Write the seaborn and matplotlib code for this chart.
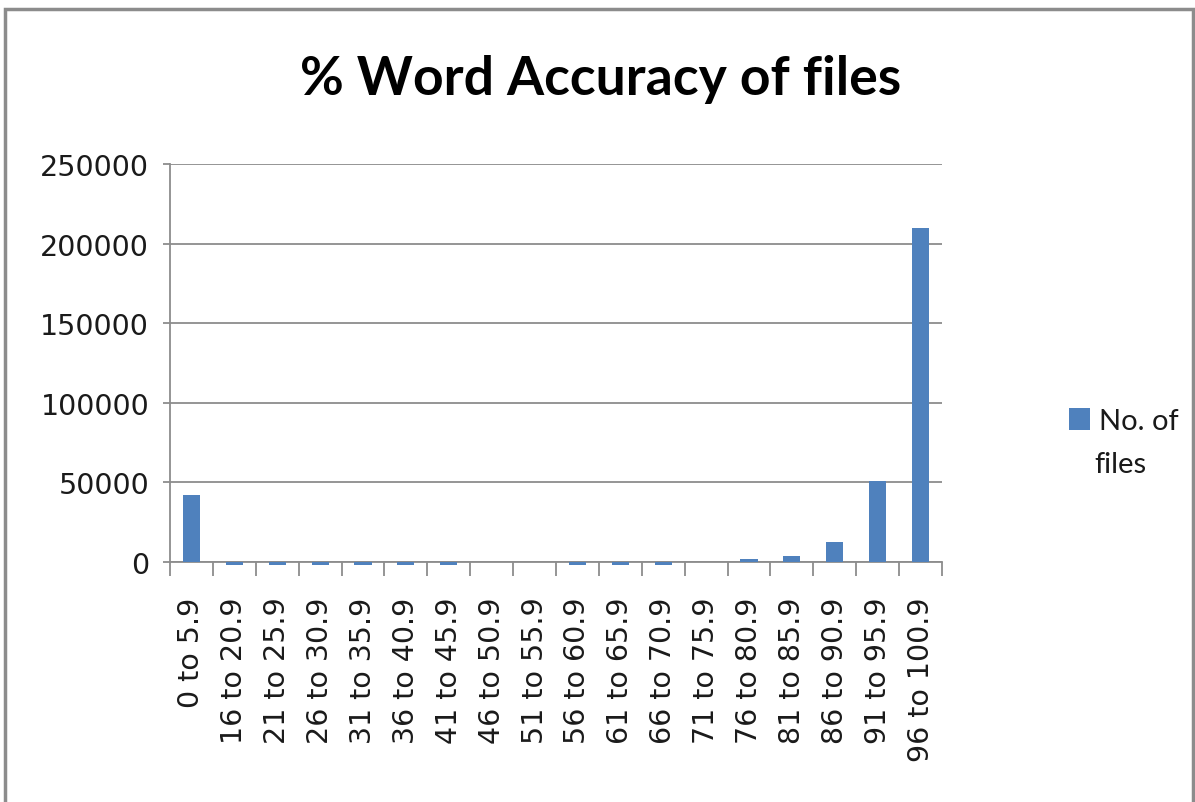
import numpy as np
import pandas as pd
import matplotlib
matplotlib.use("Agg")
import matplotlib.pyplot as plt
import seaborn as sns
from matplotlib.patches import Rectangle
from matplotlib.ticker import FixedLocator

# =============================
# DATA
# =============================
ranges = ["0 to 5.9", "16 to 20.9", "21 to 25.9", "26 to 30.9", "31 to 35.9",
          "36 to 40.9", "41 to 45.9", "46 to 50.9", "51 to 55.9", "56 to 60.9",
          "61 to 65.9", "66 to 70.9", "71 to 75.9", "76 to 80.9", "81 to 85.9",
          "86 to 90.9", "91 to 95.9", "96 to 100.9"]
no_of_files = [42300, -2000, -2000, -2000, -2000, -2000, -2000, 0, 0, -2000,
               -2000, -2000, 0, 2000, 3800, 12600, 51100, 210000]
y_ticks = [0, 50000, 100000, 150000, 200000, 250000]

df = pd.DataFrame({"range": ranges, "files": no_of_files})

BAR_COLOR = "#4F81BD"
GRID_COLOR = "#8C8C8C"
TEXT_COLOR = "#1a1a1a"

# =============================
# PLOT
# =============================
sns.set_theme(style="white")
plt.rcParams["font.family"] = ["DejaVu Sans"]

fig = plt.figure(figsize=(11.95, 8.03), dpi=100)
ax = fig.add_axes([170 / 1195, 1 - 563 / 803, (942 - 170) / 1195, (563 - 165) / 803])

sns.barplot(data=df, x="range", y="files", color=BAR_COLOR, width=0.4,
            saturation=1, ax=ax, label="No. of", linewidth=0)
# the small negative bars hang just below the axis
for bar in ax.patches:
    bar.set_clip_on(False)
    bar.set_zorder(3)
    bar.set_linewidth(0)

ax.set_ylim(0, 250000)
ax.set_xlim(-0.5, len(ranges) - 0.5)
ax.set_yticks(y_ticks)
ax.set_yticklabels([str(v) for v in y_ticks], fontsize=20.5, color=TEXT_COLOR)
ax.yaxis.grid(True, color=GRID_COLOR, linewidth=1.3)
ax.set_axisbelow(True)

ax.set_xticks(range(len(ranges)))
ax.set_xticklabels(ranges, rotation=90, fontsize=20.5, color=TEXT_COLOR)
ax.xaxis.set_minor_locator(FixedLocator(np.arange(-0.5, len(ranges), 1.0)))
ax.tick_params(axis="x", which="major", length=0, pad=25)
ax.tick_params(axis="x", which="minor", length=10, width=1.3, color=GRID_COLOR, direction="out")
ax.tick_params(axis="y", which="major", length=5, width=1.3, color=GRID_COLOR, direction="out", pad=10)
ax.xaxis.set_ticks_position("bottom")
ax.yaxis.set_ticks_position("left")

for side in ["top", "right"]:
    ax.spines[side].set_visible(False)
for side in ["left", "bottom"]:
    ax.spines[side].set_color(GRID_COLOR)
    ax.spines[side].set_linewidth(1.3)

ax.set_xlabel("")
ax.set_ylabel("")

fig.text(0.503, 1 - 80 / 803, "% Word Accuracy of files", ha="center", va="center",
         fontsize=38.5, fontweight="bold", color="black", family=["Lato", "DejaVu Sans"])

leg = ax.legend(loc="center left", bbox_to_anchor=(1054 / 1195, 1 - 422 / 803),
                bbox_transform=fig.transFigure, frameon=False, borderpad=0,
                prop={"family": ["Lato", "DejaVu Sans"], "size": 21},
                handlelength=0.75, handleheight=0.8, handletextpad=0.3)
for t in leg.get_texts():
    t.set_color(TEXT_COLOR)
# second line of the legend label
fig.text(1094 / 1195, 1 - 465 / 803, "files", ha="left", va="center", fontsize=21,
         color=TEXT_COLOR, family=["Lato", "DejaVu Sans"])

# outer chart border
fig.patches.append(Rectangle((5 / 1195, -0.01), 1 - 7 / 1195, 1 - 10 / 803 + 0.01,
                             transform=fig.transFigure, fill=False,
                             edgecolor="#8C8C8C", linewidth=2.5))

fig.savefig("out.png", dpi=100)
